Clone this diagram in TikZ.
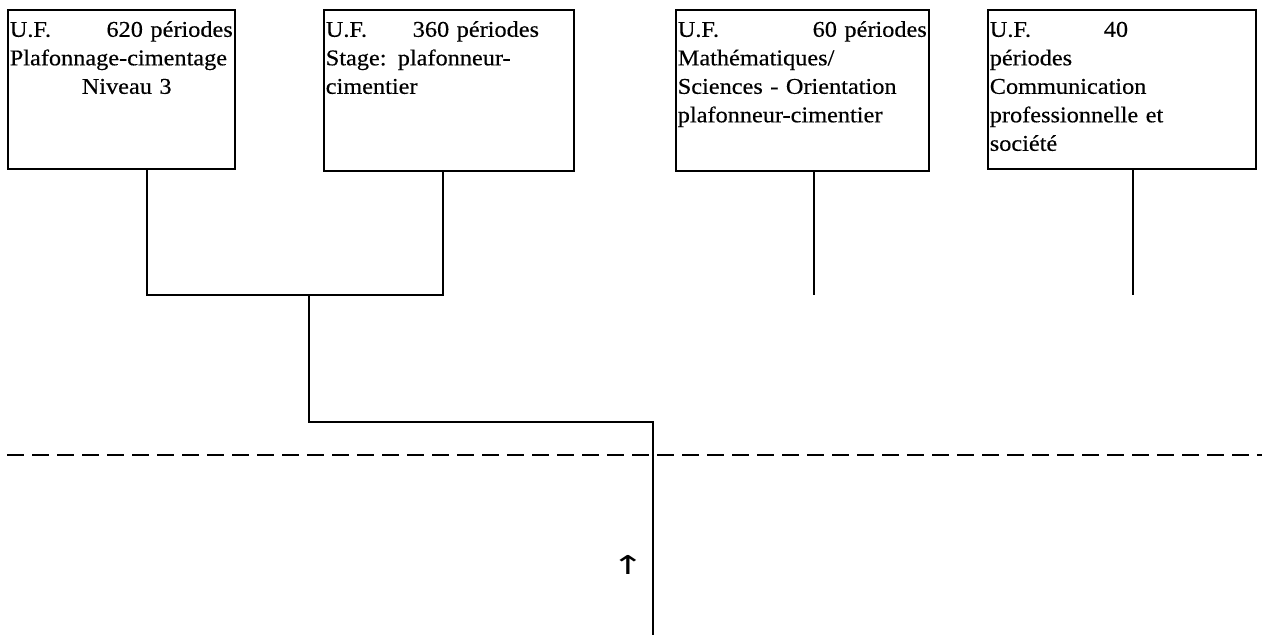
\documentclass[tikz,border=0pt]{standalone}
\usepackage{fontspec}
\setmainfont{Liberation Serif}[FakeStretch=1.08,FakeBold=0.4]
\newfontfamily\arrowfont{DejaVu Sans}[FakeStretch=1.5]
\begin{document}
\begin{tikzpicture}[x=1pt,y=-1pt,
    ufbox/.style={draw,line width=1.6pt,anchor=north west,align=left,
      inner xsep=2pt,inner ysep=3pt,font=\fontsize{22.5}{28.5}\selectfont},
    link/.style={line width=1.3pt}]
      \useasboundingbox (0,0) rectangle (1262,637);
      \node[ufbox,text width=223pt,text height=24pt,text depth=129pt] (b1) at (7,9)
        {U.F.\hfill 620 périodes\\\mbox{Plafonnage-cimentage}\\\hspace*{72pt}Niveau 3};
      \node[ufbox,text width=246pt,text height=24pt,text depth=131pt] (b2) at (323,9)
        {\makebox[87pt][l]{U.F.}360 périodes\\Stage: plafonneur-\\cimentier};
      \node[ufbox,text width=249pt,text height=24pt,text depth=131pt] (b3) at (675,9)
        {U.F.\hfill 60 périodes\\Mathématiques/\\Sciences - Orientation\\plafonneur-cimentier};
      \node[ufbox,text width=264pt,text height=24pt,text depth=129pt] (b4) at (987,9)
        {\makebox[114pt][l]{U.F.}40\\périodes\\Communication\\professionnelle et\\société};
      \coordinate (j1) at (147,295);
      \coordinate (j2) at (443,295);
      \coordinate (j3) at (814,295);
      \coordinate (j4) at (1133,295);
      \coordinate (m1) at (309,295);
      \coordinate (m2) at (653,422);
      \coordinate (out) at (653,635);
      \draw[link] (j1 |- b1.south) -- (j1) -- (j2) -- (j2 |- b2.south);
      \draw[link] (m1) |- (m2) -- (out);
      \draw[link] (j3 |- b3.south) -- (j3);
      \draw[link] (j4 |- b4.south) -- (j4);
      \draw[line width=1.3pt,dash pattern=on 17pt off 8pt] (7,455) -- (1262,455);
      \node[font=\arrowfont\fontsize{26}{30}\selectfont,inner sep=0pt] (up) at (628,565) {↑};
    \end{tikzpicture}
\end{document}
